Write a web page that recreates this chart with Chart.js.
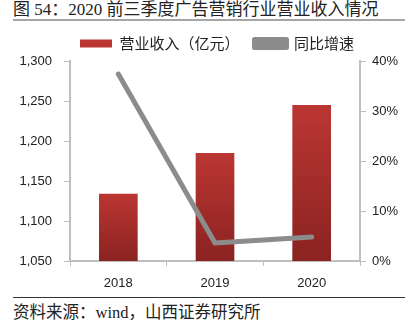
<!DOCTYPE html>
<html lang="zh">
  <head>
    <meta charset="UTF-8" />
    <script src="https://cdn.jsdelivr.net/npm/chart.js"></script>
    <style>
      body {
        margin: 0;
        width: 416px;
        height: 336px;
        position: relative;
        background: #fff;
        overflow: hidden;
      }
      #title {
        position: absolute;
        left: 13px;
        top: 0px;
        width: 392px;
        height: 19px;
        border-bottom: 2px solid #a6a6a6;
        font: 17px "Liberation Serif", "Noto Sans CJK SC", serif;
        line-height: 19px;
        color: #222;
        white-space: nowrap;
      }
      #source {
        position: absolute;
        left: 13px;
        top: 297px;
        width: 392px;
        border-top: 1px solid #333;
        font: 16.5px "Liberation Serif", "Noto Sans CJK SC", serif;
        line-height: 30px;
        color: #222;
        white-space: nowrap;
      }
      #wrap {
        position: absolute;
        left: 0;
        top: 0;
        width: 416px;
        height: 297px;
      }
    </style>
  </head>
  <body>
    <div id="title">图 54：2020 前三季度广告营销行业营业收入情况</div>
    <div id="wrap"><canvas id="chart"></canvas></div>
    <div id="source">资料来源：wind，山西证券研究所</div>

    <script>
      const years = ["2018", "2019", "2020"];
      const revenue = [1134, 1185, 1245];
      const growth = [37.4, 3.6, 4.8];
      const leftTicks = [1050, 1100, 1150, 1200, 1250, 1300];
      const rightTicks = [0, 10, 20, 30, 40];

      const axisGray = "#bfbfbf";
      const tickFont = { family: "Liberation Sans, Noto Sans", size: 13 };

      function barFill(ctx) {
        const chart = ctx.chart;
        const area = chart.chartArea;
        if (!area || ctx.parsed === undefined) return "#a82d2b";
        const top = chart.scales.y.getPixelForValue(ctx.parsed.y);
        const g = chart.ctx.createLinearGradient(0, top, 0, area.bottom);
        g.addColorStop(0, "#bb3633");
        g.addColorStop(1, "#8a2321");
        return g;
      }

      // nudge the legend a bit to the right, like the original
      const legendShift = {
        id: "legendShift",
        afterLayout(chart) {
          if (chart.legend) chart.legend.left += 18;
        },
      };

      new Chart(document.getElementById("chart"), {
        plugins: [legendShift],
        data: {
          labels: years,
          datasets: [
            {
              type: "line",
              label: "同比增速",
              data: growth,
              yAxisID: "y1",
              borderColor: "#8c8c8c",
              backgroundColor: "#8c8c8c",
              borderWidth: 5,
              pointRadius: 0,
              tension: 0,
              borderCapStyle: "round",
              borderJoinStyle: "round",
              order: 0,
            },
            {
              type: "bar",
              label: "营业收入（亿元）",
              data: revenue,
              yAxisID: "y",
              backgroundColor: barFill,
              barPercentage: 0.4,
              categoryPercentage: 1,
              order: 1,
            },
          ],
        },
        options: {
          responsive: true,
          maintainAspectRatio: false,
          animation: false,
          layout: { padding: { top: 21, left: 0, right: 0, bottom: 0 } },
          plugins: {
            tooltip: { enabled: false },
            legend: {
              position: "top",
              reverse: true,
              labels: {
                boxWidth: 32,
                boxHeight: 8,
                padding: 15,
                color: "#222",
                font: { family: "Noto Sans CJK SC", size: 15 },
              },
            },
          },
          scales: {
            x: {
              afterFit: (s) => {
                s.height = 36;
              },
              grid: {
                display: true,
                drawOnChartArea: false,
                offset: true,
                tickLength: 5,
                color: axisGray,
              },
              border: { color: axisGray, width: 2 },
              ticks: { color: "#222", font: tickFont, padding: 10 },
            },
            y: {
              position: "left",
              min: 1050,
              max: 1300,
              afterBuildTicks: (s) => {
                s.ticks = leftTicks.map((v) => ({ value: v }));
              },
              afterFit: (s) => {
                s.width = 70;
              },
              grid: { drawOnChartArea: false, tickLength: 6, color: axisGray },
              border: { color: axisGray, width: 2 },
              ticks: {
                color: "#222",
                font: tickFont,
                padding: 12,
                callback: (v) => v.toLocaleString("en-US"),
              },
            },
            y1: {
              position: "right",
              min: 0,
              max: 40,
              afterBuildTicks: (s) => {
                s.ticks = rightTicks.map((v) => ({ value: v }));
              },
              afterFit: (s) => {
                s.width = 56;
              },
              grid: { drawOnChartArea: false, tickLength: 6, color: axisGray },
              border: { color: axisGray, width: 2 },
              ticks: {
                color: "#222",
                font: tickFont,
                padding: 6,
                callback: (v) => v + "%",
              },
            },
          },
        },
      });
    </script>
  </body>
</html>
